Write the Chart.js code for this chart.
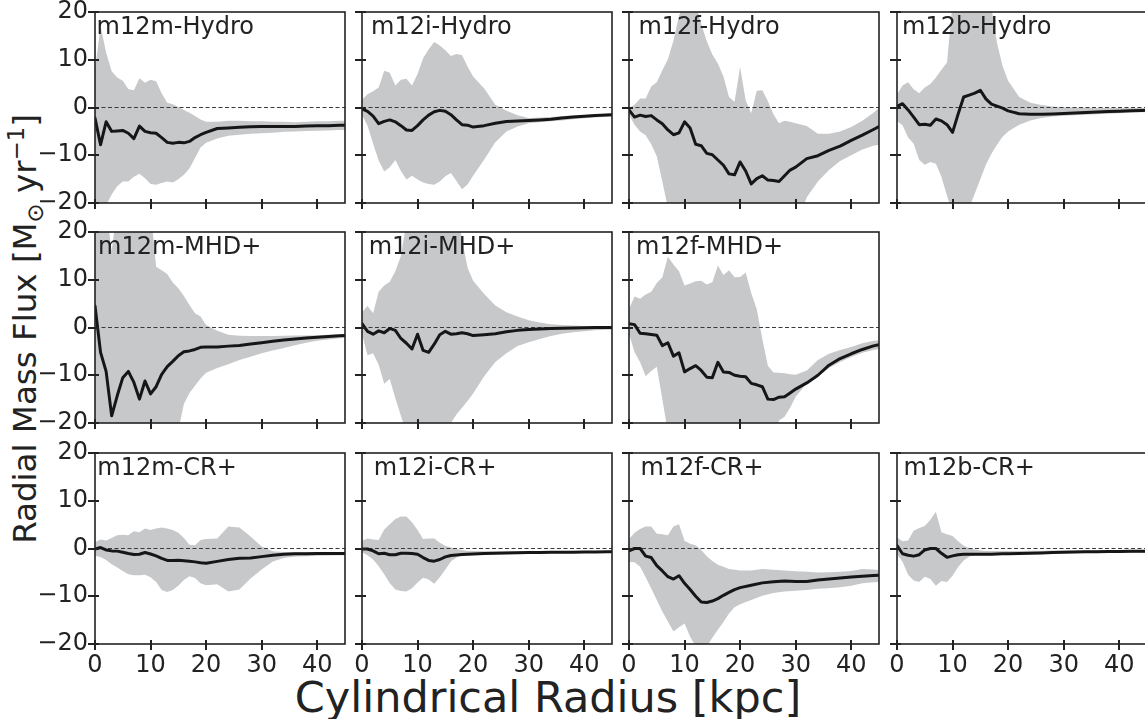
<!DOCTYPE html>
<html><head><meta charset="utf-8">
<script src="https://cdn.jsdelivr.net/npm/chart.js@4.4.1/dist/chart.umd.min.js"></script>
<style>
html,body{margin:0;padding:0;background:#fff;overflow:hidden;width:1145px;height:719px;position:relative;font-family:'DejaVu Sans',sans-serif;}
canvas{position:absolute;}
#ylab{position:absolute;left:26px;top:329px;transform:translate(-50%,-50%) rotate(-90deg);font-size:32.5px;color:#222;white-space:nowrap;line-height:1;}
#ylab sub,#ylab sup{font-size:70%;}
#xlab{position:absolute;left:548px;top:697px;transform:translate(-50%,-50%);font-size:43px;color:#222;white-space:nowrap;line-height:1;}
</style></head><body>
<div id="ylab">Radial Mass Flux [M<sub>⊙</sub> yr<sup>−1</sup>]</div>
<div id="xlab">Cylindrical Radius [kpc]</div>
<script>
// ---------- data ----------
const R_A = [0,1,2,3,4,5,6,7,8,9,10,11,12,13,14,15,16,17,18,19,20,22,24,26,28,30,32,34,36,38,40,42,44,45];
const R_B = [0,1,2,3,4,5,6,7,8,9,10,11,12,13,14,15,16,17,18,19,20,21,22,23,24,25,26,27,28,29,30,32,34,36,38,40,42,44,45];
const xTicks = [0,10,20,30,40];
const yTicks = [-20,-10,0,10,20];
const zeroLine = [0,0];
const titles = ['m12m-Hydro','m12i-Hydro','m12f-Hydro','m12b-Hydro','m12m-MHD+','m12i-MHD+','m12f-MHD+','m12m-CR+','m12i-CR+','m12f-CR+','m12b-CR+'];

// m12m-Hydro (R_A)
const m12mHydroMean  = [-2.2,-7.8,-3.0,-5.0,-4.9,-4.8,-5.4,-6.5,-3.9,-5.0,-5.3,-5.4,-6.3,-7.3,-7.5,-7.3,-7.4,-7.1,-6.3,-5.7,-5.2,-4.4,-4.3,-4.15,-4.05,-4.0,-4.0,-4.0,-4.0,-3.85,-3.8,-3.8,-3.7,-3.7];
const m12mHydroUpper = [7.9,17.0,11.5,7.6,6.3,5.6,3.9,3.6,6.1,5.2,5.8,5.5,3.0,1.0,0.7,0.1,-0.5,-1.1,-1.8,-2.5,-3.0,-3.0,-2.8,-2.8,-2.9,-2.9,-3.0,-3.0,-3.1,-3.0,-2.9,-2.9,-2.8,-2.8];
const m12mHydroLower = [-22,-22,-20.5,-18.2,-16.5,-15.5,-15.5,-14.5,-13.9,-14.8,-16.0,-16.2,-15.8,-15.5,-15.7,-15.0,-14.1,-12.8,-10.6,-8.4,-7.4,-6.5,-5.9,-5.7,-5.5,-5.4,-5.3,-5.1,-5.0,-4.9,-4.85,-4.8,-4.7,-4.7];
// m12i-Hydro (R_A)
const m12iHydroMean  = [-0.3,-0.8,-1.8,-3.4,-2.9,-2.6,-3.0,-3.8,-4.7,-4.8,-3.8,-2.6,-1.6,-0.9,-0.6,-0.8,-1.5,-2.6,-3.6,-3.7,-4.1,-3.8,-3.3,-2.95,-2.85,-2.7,-2.6,-2.45,-2.2,-2.0,-1.85,-1.7,-1.55,-1.5];
const m12iHydroUpper = [1.6,2.8,3.4,4.2,7.7,7.3,4.6,5.8,6.0,4.6,7.0,10.3,12.2,13.7,13.0,12.0,10.8,11.2,11.0,8.6,6.5,4.0,0.6,-0.7,-1.6,-2.2,-2.1,-2.0,-1.8,-1.7,-1.55,-1.45,-1.3,-1.2];
const m12iHydroLower = [-1.5,-3.8,-7.6,-11.1,-13.4,-12.5,-11.0,-13.3,-15.1,-14.3,-15.1,-15.7,-16.0,-16.2,-15.5,-14.4,-13.7,-15.4,-17.1,-16.1,-14.3,-10.9,-7.3,-5.0,-4.0,-3.3,-3.1,-2.9,-2.7,-2.45,-2.25,-2.1,-1.95,-1.9];
// m12f-Hydro (R_B)
const m12fHydroMean  = [-0.5,-2.0,-1.6,-1.9,-1.7,-2.6,-3.4,-4.7,-5.7,-5.3,-3.0,-4.3,-7.7,-8.0,-9.6,-9.9,-11.0,-12.1,-13.9,-14.1,-11.4,-13.3,-16.0,-14.9,-14.3,-15.2,-15.3,-15.5,-14.3,-13.1,-12.5,-10.7,-10.1,-9.0,-8.1,-6.9,-5.8,-4.6,-4.0];
const m12fHydroUpper = [-0.1,0.6,1.9,1.9,4.4,5.3,7.8,10.1,14.0,19.2,22,24,22,17.5,13.9,11.1,9.2,6.5,2.2,1.2,8.5,1.5,-1.2,3.5,3.6,1.3,-1.4,-3.3,-2.8,-3.0,-3.3,-3.9,-5.5,-5.5,-5.0,-4.1,-2.8,-1.1,-0.1];
const m12fHydroLower = [-1.5,-3.6,-5.0,-5.8,-7.7,-10.2,-15.5,-21,-25,-25,-25,-25,-25,-25,-25,-25,-25,-25,-25,-25,-25,-25,-25,-25,-25,-25,-25,-25,-25,-25,-25,-18.8,-15.5,-13.1,-11.2,-10.0,-8.8,-8.0,-7.8];
// m12b-Hydro (R_A)
const m12bHydroMean  = [0.2,0.8,-0.5,-2.0,-3.6,-3.5,-3.7,-2.4,-2.8,-3.6,-5.2,-1.4,2.2,2.6,3.0,3.6,1.8,0.7,0.3,-0.15,-0.7,-1.3,-1.4,-1.4,-1.35,-1.25,-1.15,-1.05,-0.95,-0.85,-0.8,-0.7,-0.65,-0.6];
const m12bHydroUpper = [2.7,4.6,5.3,3.8,3.0,4.2,4.9,6.3,7.9,9.4,22,25,26,26,26,25,23,21,13.5,8.7,5.6,2.2,1.0,0.5,0.2,0.05,0,-0.05,-0.1,-0.1,-0.1,-0.1,-0.1,-0.1];
const m12bHydroLower = [-2.9,-3.7,-6.3,-7.6,-11.0,-12.0,-11.4,-11.8,-14.5,-18.5,-22,-24,-24,-21,-18,-15.0,-12.0,-9.7,-7.8,-6.1,-5.0,-3.6,-2.7,-2.2,-1.9,-1.75,-1.6,-1.5,-1.4,-1.3,-1.2,-1.1,-1.0,-1.0];
// m12m-MHD+ (R_A)
const m12mMhdMean  = [4.5,-5.2,-9.2,-18.5,-14.3,-10.5,-9.2,-11.5,-15.0,-11.2,-13.9,-12.4,-9.8,-8.2,-7.1,-5.9,-5.1,-4.9,-4.6,-4.15,-4.1,-4.1,-3.9,-3.75,-3.45,-3.2,-2.9,-2.6,-2.4,-2.2,-2.05,-1.9,-1.75,-1.7];
const m12mMhdUpper = [25,25,25,16,25,25,25,25,25,25,25,12.7,12,11.2,9.4,8.2,6.6,4.7,3.0,2.3,0.5,-0.7,-1.5,-1.75,-1.8,-1.8,-1.8,-1.75,-1.7,-1.65,-1.6,-1.5,-1.45,-1.4];
const m12mMhdLower = [-25,-25,-25,-25,-25,-25,-25,-25,-25,-25,-25,-25,-25,-25,-25,-21.5,-16.0,-13.7,-12.2,-10.7,-9.5,-8.5,-7.7,-6.8,-6.1,-5.4,-4.8,-4.3,-3.7,-3.2,-2.8,-2.5,-2.25,-2.2];
// m12i-MHD+ (R_A)
const m12iMhdMean  = [0.8,-0.8,-1.4,-0.7,-1.1,-0.2,-0.6,-2.3,-3.3,-4.5,-1.4,-4.8,-5.2,-3.5,-1.5,-0.8,-1.4,-1.3,-1.1,-1.3,-1.7,-1.5,-1.3,-0.9,-0.6,-0.4,-0.3,-0.2,-0.15,-0.1,-0.05,0,0,0];
const m12iMhdUpper = [3.2,4.5,3.0,7.5,8.8,9.6,11.8,15.0,22,25,25,25,25,25,25,25,25,25,18.5,12.5,9.8,7.0,4.6,3.2,2.3,1.5,1.05,0.7,0.5,0.4,0.3,0.25,0.2,0.2];
const m12iMhdLower = [-1.3,-5.8,-5.4,-7.8,-11.8,-10.8,-14.8,-18.5,-22,-24,-24,-24,-24,-24,-24,-24,-20,-18.2,-16.8,-15.4,-13.8,-10.2,-7.2,-5.4,-3.9,-3.1,-2.4,-1.8,-1.3,-1.0,-0.8,-0.6,-0.45,-0.4];
// m12f-MHD+ (R_B)
const m12fMhdMean  = [0.8,0.6,-1.2,-1.3,-1.45,-1.6,-3.8,-3.2,-6.0,-5.3,-9.3,-8.6,-8.0,-9.0,-10.4,-10.5,-7.3,-9.3,-9.4,-10.0,-10.2,-10.3,-11.7,-12.0,-12.4,-15.0,-15.1,-14.6,-14.5,-13.7,-12.9,-11.6,-10.0,-7.9,-6.5,-5.5,-4.6,-3.85,-3.6];
const m12fMhdUpper = [3.9,6.5,6.0,6.9,7.5,9.3,10.5,14.8,13.2,11.8,8.8,9.2,9.7,9.8,9.0,9.5,13.0,11.0,12.0,10.5,10.6,11.5,7.2,3.8,-2.4,-8.0,-9.4,-9.5,-9.6,-9.8,-9.9,-9.0,-6.8,-5.5,-4.7,-4.1,-3.3,-2.8,-2.7];
const m12fMhdLower = [-1.3,-5.2,-7.3,-10.2,-9.1,-8.2,-15,-22,-25,-25,-25,-25,-25,-25,-25,-25,-25,-25,-25,-25,-25,-25,-25,-25,-25,-25,-25,-19.5,-18.7,-16.8,-14.5,-11.7,-10.3,-8.5,-7.2,-6.2,-5.3,-4.7,-4.5];
// m12m-CR+ (R_A)
const m12mCrMean  = [-0.1,0.2,-0.3,-0.5,-0.55,-0.8,-1.05,-1.25,-1.2,-0.85,-1.15,-1.55,-2.05,-2.5,-2.5,-2.45,-2.55,-2.65,-2.8,-3.0,-3.1,-2.7,-2.3,-2.05,-2.0,-1.7,-1.4,-1.2,-1.1,-1.08,-1.07,-1.06,-1.05,-1.05];
const m12mCrUpper = [1.3,1.9,1.7,2.2,2.8,2.9,2.8,3.6,3.4,4.2,3.9,4.2,4.4,4.2,3.9,3.3,2.2,0.8,0.7,1.8,2.0,2.1,4.6,4.4,2.5,0.4,-0.6,-0.75,-0.8,-0.8,-0.8,-0.8,-0.8,-0.8];
const m12mCrLower = [-1.5,-1.8,-2.4,-3.3,-4.0,-4.7,-5.4,-5.6,-5.6,-5.5,-6.0,-7.0,-8.7,-9.1,-8.7,-7.8,-6.6,-5.8,-6.2,-7.3,-7.7,-7.5,-9.0,-8.6,-6.3,-4.4,-2.7,-2.0,-1.7,-1.6,-1.5,-1.45,-1.4,-1.4];
// m12i-CR+ (R_A)
const m12iCrMean  = [-0.1,-0.1,-0.5,-1.1,-1.0,-1.3,-1.3,-1.0,-1.0,-1.05,-1.2,-1.9,-2.5,-2.65,-2.3,-1.75,-1.45,-1.35,-1.25,-1.2,-1.15,-1.05,-1.0,-0.95,-0.9,-0.85,-0.82,-0.8,-0.78,-0.76,-0.74,-0.72,-0.7,-0.7];
const m12iCrUpper = [1.6,2.1,1.9,1.8,4.0,5.1,6.2,6.7,6.7,5.5,3.9,2.0,2.1,2.1,1.2,0.6,0.2,-0.1,-0.3,-0.5,-0.5,-0.55,-0.55,-0.55,-0.55,-0.55,-0.55,-0.55,-0.55,-0.55,-0.55,-0.55,-0.55,-0.55];
const m12iCrLower = [-0.8,-1.4,-2.3,-3.7,-5.4,-7.3,-8.6,-8.9,-9.0,-8.3,-7.1,-6.1,-6.5,-7.4,-6.0,-4.4,-2.7,-1.9,-1.4,-1.2,-1.1,-1.0,-1.0,-1.0,-0.98,-0.96,-0.94,-0.92,-0.9,-0.89,-0.88,-0.87,-0.86,-0.85];
// m12f-CR+ (R_A)
const m12fCrMean  = [-0.5,0,0,-1.6,-1.9,-3.6,-4.7,-5.9,-6.4,-5.7,-7.3,-8.6,-10.0,-11.2,-11.3,-11.0,-10.5,-9.8,-9.2,-8.6,-8.2,-7.7,-7.2,-6.95,-6.8,-6.9,-6.9,-6.6,-6.4,-6.2,-5.95,-5.8,-5.65,-5.6];
const m12fCrUpper = [2.0,3.3,4.1,4.6,4.6,3.1,3.0,2.8,4.6,5.1,1.6,1.0,0.7,-0.3,-1.6,-2.6,-3.4,-3.8,-4.3,-4.45,-4.6,-4.6,-4.3,-4.45,-4.6,-4.75,-4.85,-5.0,-4.95,-4.85,-4.7,-4.3,-4.4,-4.5];
const m12fCrLower = [-2.8,-2.9,-3.8,-6.0,-8.4,-10.8,-13.2,-15.3,-17.4,-16.5,-15.7,-18.5,-20.5,-21.5,-20.5,-18.7,-17.0,-15.4,-13.6,-12.3,-11.7,-10.8,-9.9,-9.3,-9.0,-8.85,-8.7,-8.45,-8.3,-8.1,-7.8,-7.3,-7.05,-7.0];
// m12b-CR+ (R_A)
const m12bCrMean  = [0.6,-1.1,-1.4,-1.6,-1.3,-0.3,0,0,-1.0,-1.85,-1.55,-1.3,-1.2,-1.2,-1.2,-1.2,-1.2,-1.18,-1.15,-1.12,-1.1,-1.05,-1.0,-0.92,-0.85,-0.8,-0.75,-0.7,-0.68,-0.65,-0.62,-0.6,-0.56,-0.55];
const m12bCrUpper = [2.3,1.5,1.7,3.7,4.3,4.7,6.0,7.7,3.4,3.0,2.6,1.5,0.6,0.1,-0.2,-0.4,-0.5,-0.5,-0.5,-0.5,-0.5,-0.5,-0.48,-0.46,-0.44,-0.42,-0.4,-0.38,-0.37,-0.36,-0.35,-0.34,-0.33,-0.33];
const m12bCrLower = [-1.2,-2.8,-5.5,-6.7,-7.0,-5.9,-6.4,-7.8,-6.8,-7.0,-5.7,-3.9,-2.5,-1.7,-1.4,-1.3,-1.2,-1.15,-1.15,-1.15,-1.15,-1.1,-1.05,-1.0,-0.98,-0.95,-0.93,-0.91,-0.9,-0.89,-0.88,-0.87,-0.86,-0.85];

// ---------- layout ----------
const COL_LEFT = [95, 362, 629, 897];
const ROW_TOP = [12, 232, 453];
const PW = 250, PH = 191;
const PADL = 60, PADT = 18, PADR = 10, PADB = 50;
const BAND = '#c7c8ca', INK = '#222222';
const FONT = "'DejaVu Sans', sans-serif";

const panels = [
  {t:0, r:R_A, m:m12mHydroMean, u:m12mHydroUpper, l:m12mHydroLower, row:0, col:0, tx:1.5},
  {t:1, r:R_A, m:m12iHydroMean, u:m12iHydroUpper, l:m12iHydroLower, row:0, col:1, tx:9},
  {t:2, r:R_B, m:m12fHydroMean, u:m12fHydroUpper, l:m12fHydroLower, row:0, col:2, tx:9.4},
  {t:3, r:R_A, m:m12bHydroMean, u:m12bHydroUpper, l:m12bHydroLower, row:0, col:3, tx:5},
  {t:4, r:R_A, m:m12mMhdMean, u:m12mMhdUpper, l:m12mMhdLower, row:1, col:0, tx:3},
  {t:5, r:R_A, m:m12iMhdMean, u:m12iMhdUpper, l:m12iMhdLower, row:1, col:1, tx:6.7},
  {t:6, r:R_B, m:m12fMhdMean, u:m12fMhdUpper, l:m12fMhdLower, row:1, col:2, tx:7},
  {t:7, r:R_A, m:m12mCrMean, u:m12mCrUpper, l:m12mCrLower, row:2, col:0, tx:2.3},
  {t:8, r:R_A, m:m12iCrMean, u:m12iCrUpper, l:m12iCrLower, row:2, col:1, tx:11.7},
  {t:9, r:R_A, m:m12fCrMean, u:m12fCrUpper, l:m12fCrLower, row:2, col:2, tx:11.4},
  {t:10, r:R_A, m:m12bCrMean, u:m12bCrUpper, l:m12bCrLower, row:2, col:3, tx:6.4}
];

const framePlugin = {
  id: 'frame',
  afterDatasetsDraw(chart, args, opts) {
    const {ctx, chartArea: a, scales: {x, y}} = chart;
    ctx.save();
    ctx.strokeStyle = INK;
    ctx.lineWidth = 1.6;
    ctx.strokeRect(a.left, a.top, a.right - a.left, a.bottom - a.top);
    ctx.lineWidth = 2;
    ctx.beginPath();
    x.ticks.forEach(t => { const px = Math.round(x.getPixelForValue(t.value)); ctx.moveTo(px, a.bottom); ctx.lineTo(px, a.bottom - 4); });
    y.ticks.forEach(t => { const py = Math.round(y.getPixelForValue(t.value)); ctx.moveTo(a.left, py); ctx.lineTo(a.left + 4, py); });
    ctx.stroke();
    ctx.font = '24px ' + FONT;
    ctx.fillStyle = INK;
    ctx.textAlign = 'left';
    ctx.textBaseline = 'alphabetic';
    ctx.fillText(opts.title, a.left + opts.tx, a.top + 21.5);
    ctx.restore();
  }
};

const fmt = v => (v < 0 ? '\u2212' + Math.abs(v) : String(v));

panels.forEach(p => {
  const cv = document.createElement('canvas');
  const W = PADL + PW + PADR, H = PADT + PH + PADB;
  cv.width = W; cv.height = H;
  cv.style.width = W + 'px'; cv.style.height = H + 'px';
  cv.style.left = (COL_LEFT[p.col] - PADL) + 'px';
  cv.style.top = (ROW_TOP[p.row] - PADT) + 'px';
  document.body.appendChild(cv);
  const pts = arr => p.r.map((rv, i) => ({x: rv, y: arr[i]}));
  new Chart(cv, {
    type: 'line',
    data: {
      datasets: [
        {data: pts(p.u), borderWidth: 0, pointRadius: 0, backgroundColor: BAND, fill: 1, order: 3, tension: 0},
        {data: pts(p.l), borderWidth: 0, pointRadius: 0, backgroundColor: BAND, fill: false, order: 4, tension: 0},
        {data: [{x: 0, y: zeroLine[0]}, {x: 45, y: zeroLine[1]}], borderColor: '#3a3a3a', borderWidth: 1, borderDash: [4, 2.5], pointRadius: 0, fill: false, order: 1},
        {data: pts(p.m), borderColor: '#161616', borderWidth: 3, pointRadius: 0, fill: false, order: 0, tension: 0, borderJoinStyle: 'round', borderCapStyle: 'round'}
      ]
    },
    options: {
      responsive: false,
      animation: false,
      devicePixelRatio: 1,
      events: [],
      layout: {padding: {left: 0, top: PADT, right: PADR, bottom: 0}},
      plugins: {legend: {display: false}, tooltip: {enabled: false}, frame: {title: titles[p.t], tx: p.tx}},
      scales: {
        x: {
          type: 'linear', min: 0, max: 45,
          afterBuildTicks: s => { s.ticks = xTicks.map(v => ({value: v})); },
          afterFit: s => { s.height = PADB; },
          grid: {display: true, drawOnChartArea: false, drawTicks: true, tickLength: 6, lineWidth: 2, color: INK},
          border: {display: false},
          ticks: {display: p.row === 2, padding: 1, color: INK, font: {family: FONT, size: 24}, maxRotation: 0, autoSkip: false, callback: v => fmt(v)}
        },
        y: {
          type: 'linear', min: -20, max: 20,
          afterBuildTicks: s => { s.ticks = yTicks.map(v => ({value: v})); },
          afterFit: s => { s.width = PADL; },
          grid: {display: true, drawOnChartArea: false, drawTicks: true, tickLength: 7, lineWidth: 2, color: INK},
          border: {display: false},
          ticks: {display: p.col === 0, padding: 0, color: INK, font: {family: FONT, size: 24}, autoSkip: false, callback: v => fmt(v)}
        }
      }
    },
    plugins: [framePlugin]
  });
});
</script>
</body></html>
